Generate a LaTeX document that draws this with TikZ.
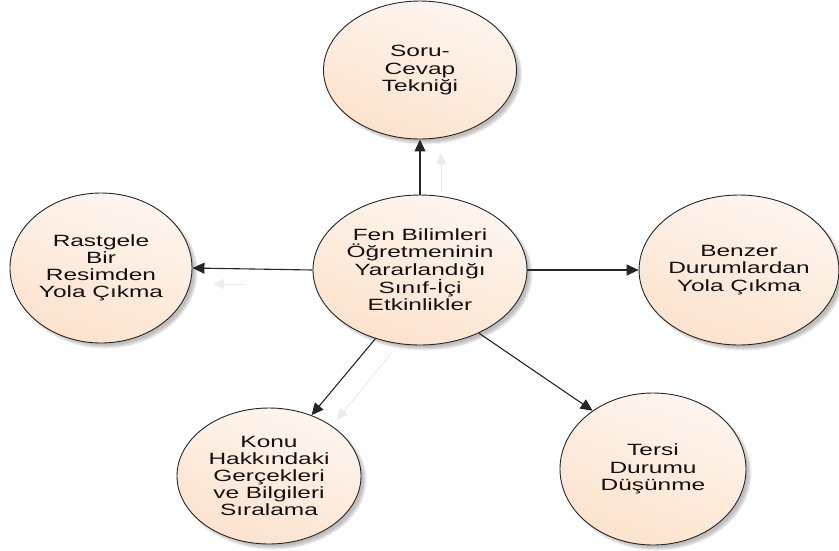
\documentclass[tikz,border=0pt]{standalone}
\usepackage{fontspec}
\setmainfont{Liberation Sans}[FakeStretch=1.5]
\usetikzlibrary{shapes.geometric,arrows.meta,shadows.blur}
\definecolor{peachlight}{HTML}{FFF6EF}
\definecolor{peach}{HTML}{FBE2CD}
\definecolor{inkline}{HTML}{262626}
\definecolor{inktext}{HTML}{141010}
\begin{document}
\begin{tikzpicture}[x=1pt,y=-1pt,
  topic/.style={ellipse, draw=inkline, line width=0.9pt, inner sep=0pt,
    top color=peachlight, bottom color=peach, shading angle=-20,
    blur shadow={shadow xshift=4pt, shadow yshift=-4pt, shadow blur steps=8, shadow opacity=25},
    align=center, text=inktext, font=\fontsize{16.3}{17.2}\selectfont},
  link/.style={draw=inkline, line width=1.1pt, -{Triangle[length=12pt,width=11pt]}},
  ghost/.style={draw=gray!15, line width=1pt, -{Triangle[length=11pt,width=10pt]}}
]
\useasboundingbox (0,0) rectangle (839,550);

% faint echoes of the connectors
\draw[ghost] (441,192) -- (441,153);
\draw[ghost] (245,284) -- (213,284);
\draw[ghost] (392,352) -- (337,420);

% activity topics around the central node
\node[topic, minimum width=214pt, minimum height=150pt] (fen) at (420,270)
  {Fen Bilimleri\\Öğretmeninin\\Yararlandığı\\Sınıf-İçi\\Etkinlikler};
\node[topic, minimum width=193pt, minimum height=138pt] (soru) at (420,70)
  {Soru-\\Cevap\\Tekniği};
\node[topic, minimum width=182pt, minimum height=150pt] (rast) at (101,268)
  {Rastgele\\Bir\\Resimden\\Yola Çıkma};
\node[topic, minimum width=188pt, minimum height=150pt] (benz) at (739,270)
  {Benzer\\Durumlardan\\Yola Çıkma};
\node[topic, minimum width=184pt, minimum height=136pt] (konu) at (269,476)
  {Konu\\Hakkındaki\\Gerçekleri\\ve Bilgileri\\Sıralama};
\node[topic, minimum width=186pt, minimum height=152pt] (ters) at (653,469)
  {Tersi\\Durumu\\Düşünme};

% connectors from the central node
\draw[link] (fen.north) -- (soru.south);
\draw[link] (fen.west) -- (rast.east);
\draw[link] (fen.east) -- (benz.west);
\draw[link] (fen.237) -- (konu.55);
\draw[link] (fen.-47) -- (ters.136);
\end{tikzpicture}
\end{document}
